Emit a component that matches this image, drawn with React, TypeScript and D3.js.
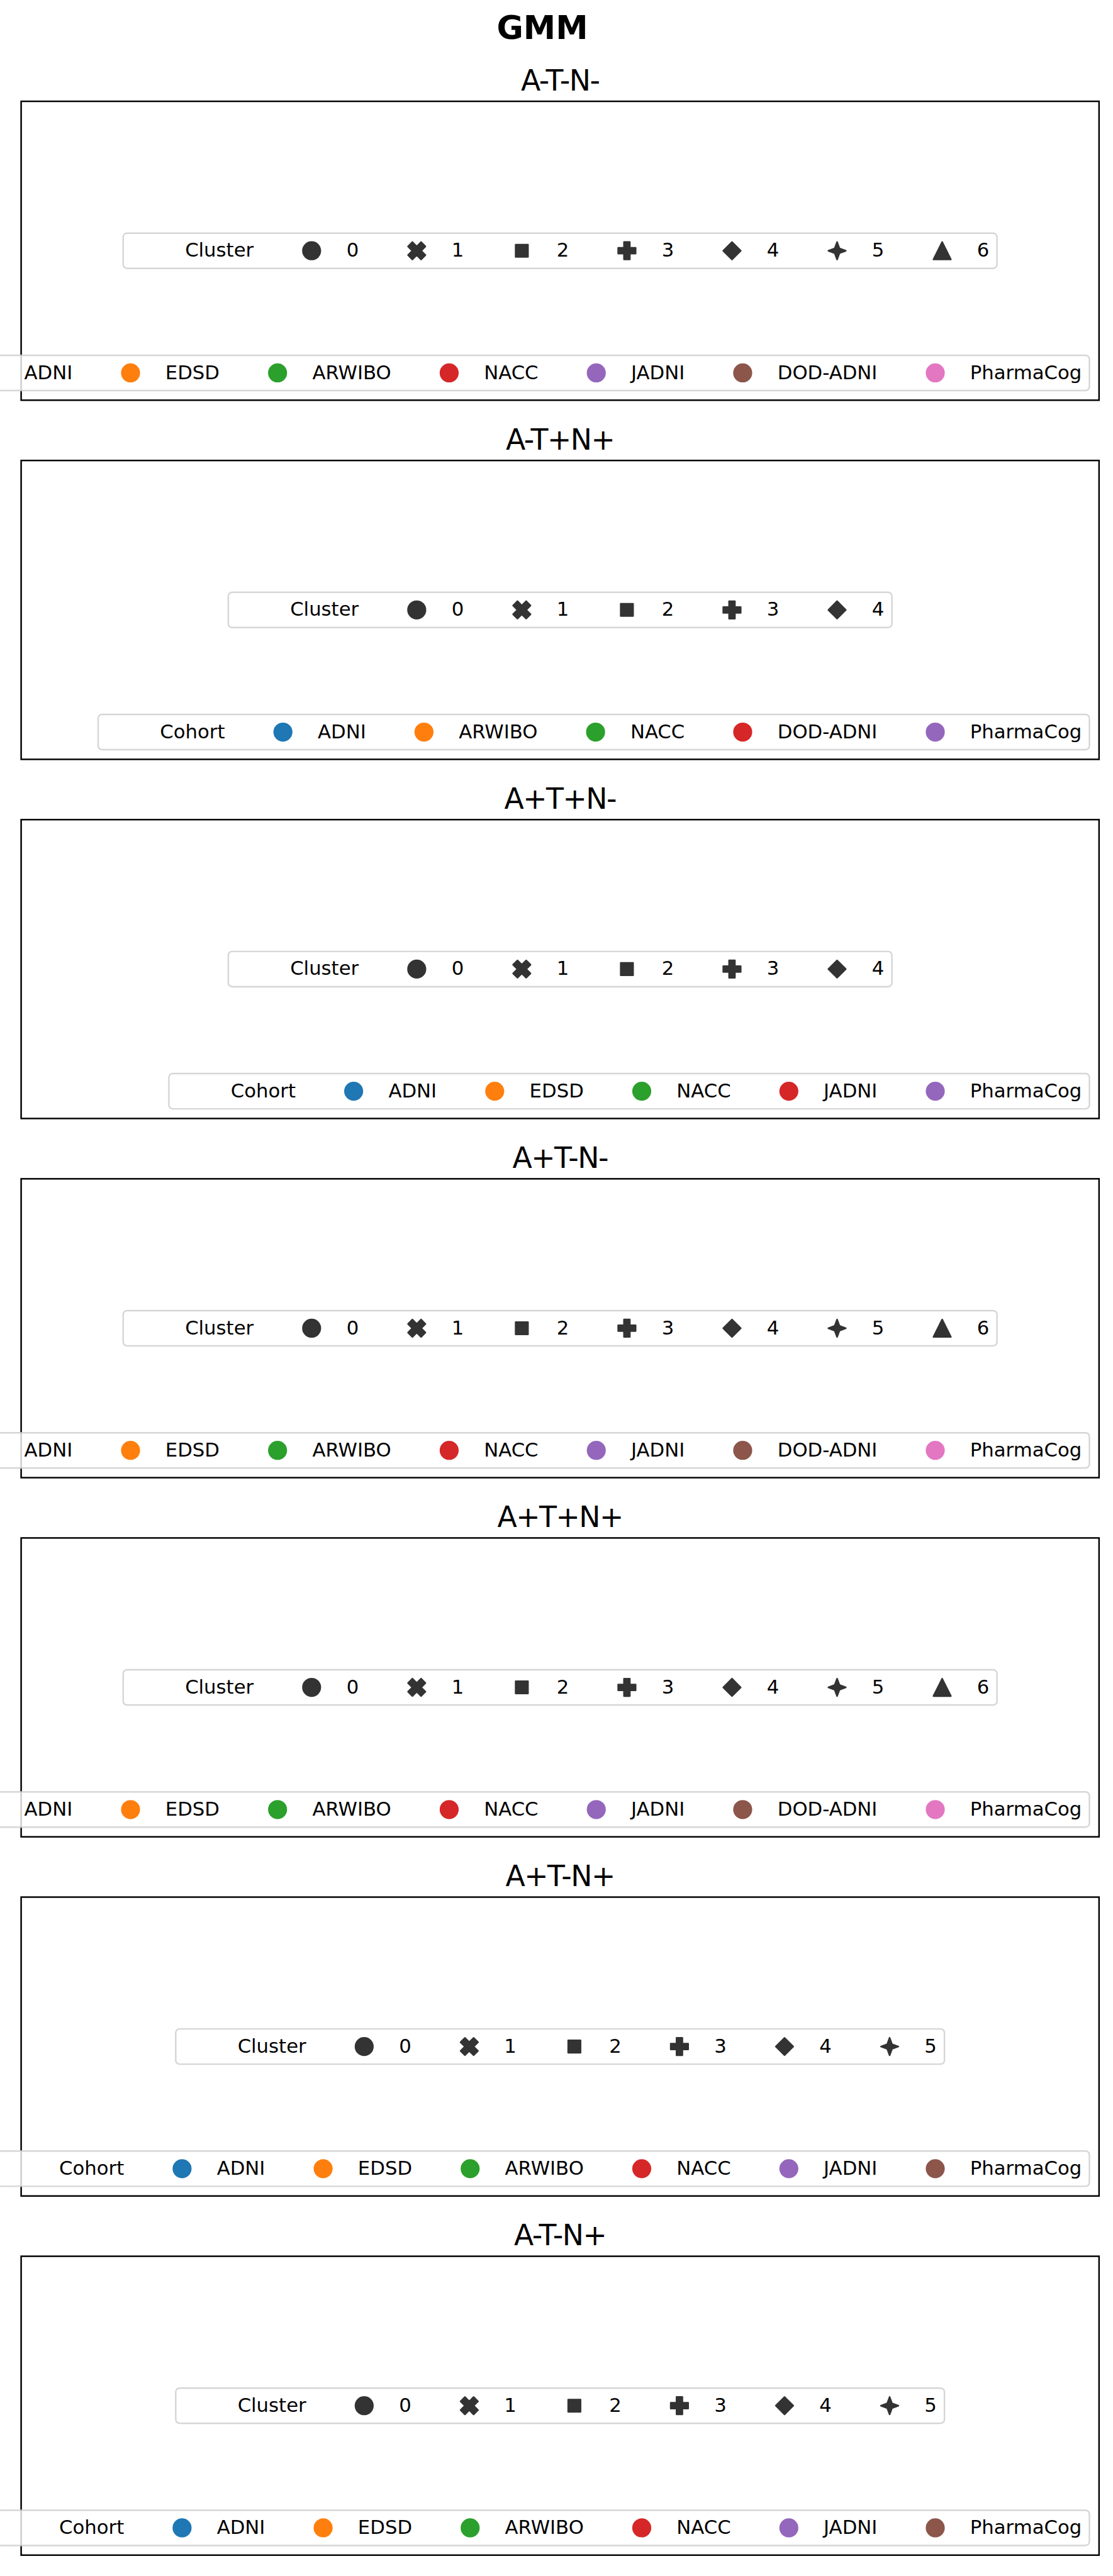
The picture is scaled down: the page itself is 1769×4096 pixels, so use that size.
import React from 'react';
import * as d3 from 'd3';

// figure text
const figTitle = 'GMM';
const panelTitles = ['A-T-N-', 'A-T+N+', 'A+T+N-', 'A+T-N-', 'A+T+N+', 'A+T-N+', 'A-T-N+'];

// number of clusters found in each panel
const clusterCounts = [7, 5, 5, 7, 7, 6, 6];

// cohorts present in each panel
const cohortsAll = ['ADNI', 'EDSD', 'ARWIBO', 'NACC', 'JADNI', 'DOD-ADNI', 'PharmaCog'];
const cohortsATpNp = ['ADNI', 'ARWIBO', 'NACC', 'DOD-ADNI', 'PharmaCog'];
const cohortsApTpNm = ['ADNI', 'EDSD', 'NACC', 'JADNI', 'PharmaCog'];
const cohortsNoDod = ['ADNI', 'EDSD', 'ARWIBO', 'NACC', 'JADNI', 'PharmaCog'];
const panelCohorts = [cohortsAll, cohortsATpNp, cohortsApTpNm, cohortsAll, cohortsAll, cohortsNoDod, cohortsNoDod];

const cohortColors = ['#1f77b4', '#ff7f0e', '#2ca02c', '#d62728', '#9467bd', '#8c564b', '#e377c2'];
const clusterColor = '#333333';

// reference pixel space, scaled down by the viewBox
const W = 2399, H = 5555;
const FONT = 'DejaVu Sans';
const F = 41.67; // legend font size
const axLeft = 45.5, axRight = 2369;
const axH = 644.5;
const panelY = d3.scaleLinear().domain([0, 6]).range([218.5, 218.5 + 6 * 774.5]);
const axX = d3.scaleLinear().domain([0, 1]).range([axLeft, axRight]);

// marker outlines, unit size, y up (matplotlib style)
const regPoly = (n: number, rot: number, inner?: number) => {
  const k = inner ? 2 * n : n;
  return d3.range(k).map(i => {
    const t = (2 * Math.PI / k) * i + Math.PI / 2 + rot * Math.PI / 180;
    const r = inner && i % 2 === 1 ? 0.5 * inner : 0.5;
    return [r * Math.cos(t), r * Math.sin(t)] as [number, number];
  });
};
const markerShapes: ([number, number][] | null)[] = [
  null,
  [[-1, -2], [0, -1], [1, -2], [2, -1], [1, 0], [2, 1], [1, 2], [0, 1], [-1, 2], [-2, 1], [-1, 0], [-2, -1]].map(p => [p[0] / 4, p[1] / 4] as [number, number]),
  regPoly(4, 45),
  [[-1, -3], [1, -3], [1, -1], [3, -1], [3, 1], [1, 1], [1, 3], [-1, 3], [-1, 1], [-3, 1], [-3, -1], [-1, -1]].map(p => [p[0] / 6, p[1] / 6] as [number, number]),
  regPoly(4, 0),
  regPoly(4, 0, 0.381966),
  [[0, 0.5], [-0.5, -0.5], [0.5, -0.5]],
];
const MS = 37.5, MEW = 3.5;
const line = d3.line<[number, number]>().x(d => d[0] * MS).y(d => -d[1] * MS).curve(d3.curveLinearClosed);

let ctx: CanvasRenderingContext2D | null = null;
function textW(s: string, size: number) {
  if (!ctx) ctx = document.createElement('canvas').getContext('2d');
  ctx!.font = `${size}px "${FONT}"`;
  return ctx!.measureText(s).width;
}

type Entry = { label: string; kind: 'none' | 'color' | 'shape'; color?: string; shape?: number };

function layout(entries: Entry[]) {
  const pad = 0.4 * F, hl = 2 * F, htp = 0.8 * F, cs = 2 * F;
  let x = pad;
  const items = entries.map((e, i) => {
    const it = { ...e, hx: x + hl / 2, tx: x + hl + htp };
    x += hl + htp + textW(e.label, F) + (i < entries.length - 1 ? cs : 0);
    return it;
  });
  return { items, width: x + pad };
}

const LH = 76;

function Marker({ e, x }: { e: any; x: number }) {
  if (e.kind === 'none') return null;
  const fill = e.kind === 'color' ? e.color : clusterColor;
  const shape = e.kind === 'color' ? null : markerShapes[e.shape];
  if (!shape) return <circle cx={x} cy={0} r={MS / 2} fill={fill} stroke={fill} strokeWidth={MEW} />;
  return <path transform={`translate(${x},0)`} d={line(shape) || ''} fill={fill} stroke={fill} strokeWidth={MEW} strokeLinejoin="round" />;
}

function Legend({ entries, x0, cy }: { entries: Entry[]; x0: number | null; cy: number; right?: number }) {
  return null;
}

function LegendBox({ entries, left, cy }: { entries: Entry[]; left: number; cy: number }) {
  const { items, width } = layout(entries);
  return (
    <g transform={`translate(${left},${cy})`}>
      <rect x={0} y={-LH / 2} width={width} height={LH} rx={8.3} ry={8.3}
        fill="#ffffff" fillOpacity={0.8} stroke="#cccccc" strokeOpacity={0.8} strokeWidth={3.33} />
      {items.map((it, i) => (
        <g key={i}>
          <Marker e={it} x={it.hx} />
          <text x={it.tx} y={13} fontFamily={FONT} fontSize={F} fill="#000">{it.label}</text>
        </g>
      ))}
    </g>
  );
}

export default function App() {
  const axCx = axX(0.5);
  return (
    <svg width={1769} height={4096} viewBox={`0 0 ${W} ${H}`}
      style={{ position: 'absolute', left: 0, top: 0, background: '#fff' }}>
      <rect x={0} y={0} width={W} height={H} fill="#fff" />
      <text x={1169} y={84} textAnchor="middle" fontFamily={FONT} fontWeight="bold" fontSize={70}>{figTitle}</text>
      {panelTitles.map((t, i) => {
        const top = panelY(i);
        const clusterEntries: Entry[] = [{ label: 'Cluster', kind: 'none' },
          ...d3.range(clusterCounts[i]).map(k => ({ label: String(k), kind: 'shape' as const, shape: k }))];
        const cohortEntries: Entry[] = [{ label: 'Cohort', kind: 'none' },
          ...panelCohorts[i].map((c, k) => ({ label: c, kind: 'color' as const, color: cohortColors[k] }))];
        const cw = layout(clusterEntries).width;
        const hw = layout(cohortEntries).width;
        const pad = 0.5 * F;
        return (
          <g key={t}>
            <text x={axCx} y={top - 23.5} textAnchor="middle" fontFamily={FONT} fontSize={62} letterSpacing={-2}>{t}</text>
            <rect x={axLeft} y={top} width={axRight - axLeft} height={axH} fill="none" stroke="#000" strokeWidth={3.33} />
            <LegendBox entries={clusterEntries} left={axCx - cw / 2} cy={top + axH / 2} />
            <LegendBox entries={cohortEntries} left={axRight - pad - hw} cy={top + axH - pad - LH / 2} />
          </g>
        );
      })}
    </svg>
  );
}
